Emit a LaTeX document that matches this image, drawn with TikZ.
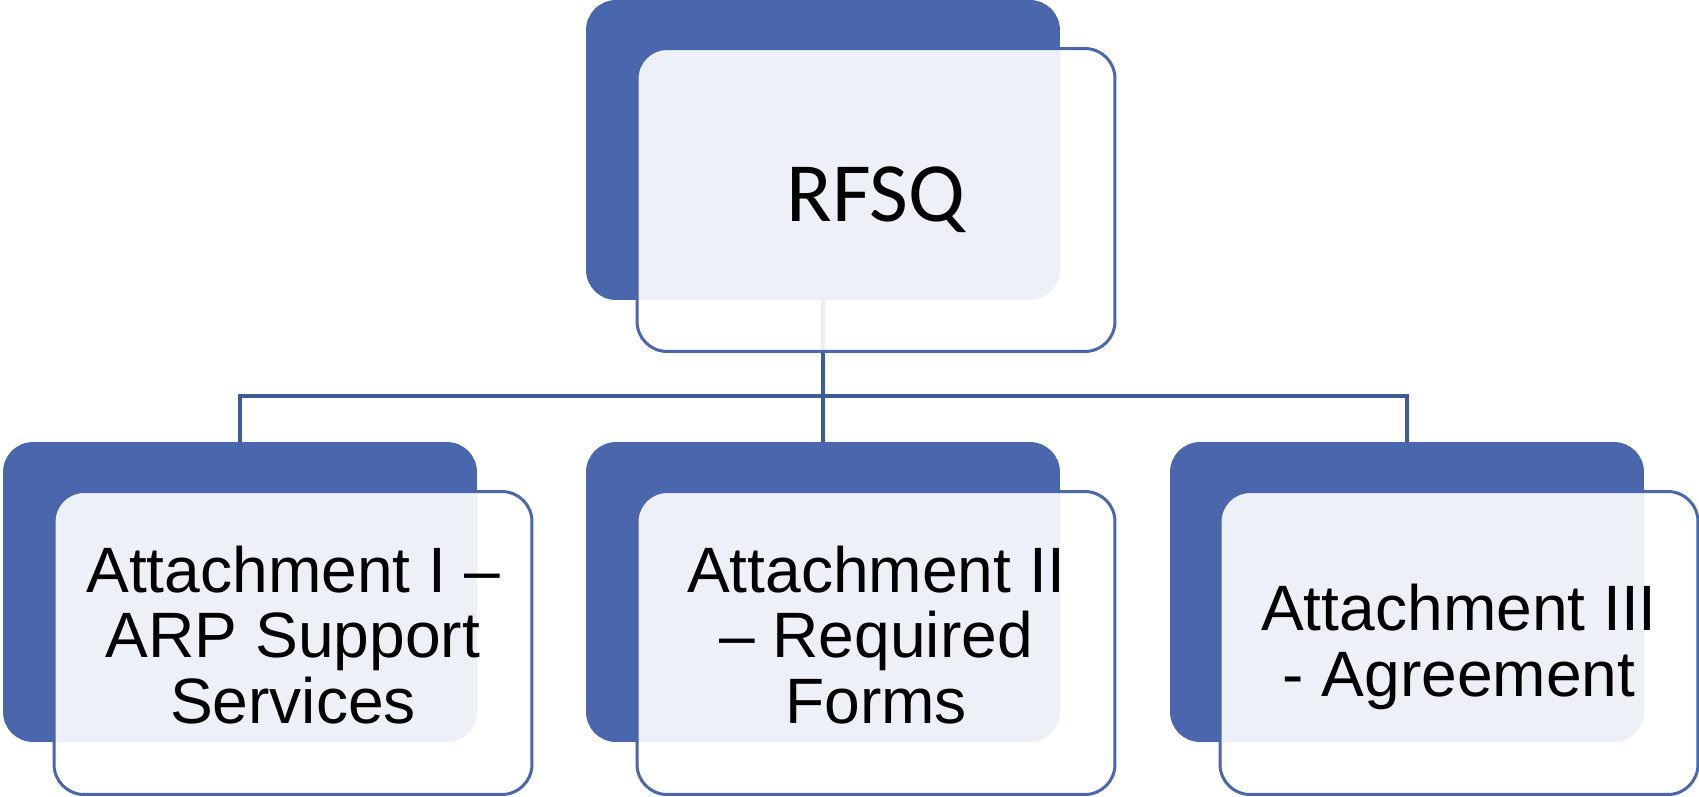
\documentclass[tikz,border=0pt]{standalone}
\usepackage{fontspec}
\setmainfont{Liberation Sans}
\newfontfamily\calib{Carlito}
\definecolor{boxblue}{HTML}{4A67AD}
\definecolor{linkblue}{HTML}{3F5A9B}
\begin{document}
\begin{tikzpicture}[x=0.02cm,y=-0.02cm,
  back/.style={rectangle,rounded corners=0.6cm,fill=boxblue,draw=none,
    minimum width=9.48cm,minimum height=6cm,inner sep=0pt},
  front/.style={rectangle,rounded corners=0.6cm,fill=white,fill opacity=0.9,text opacity=1,
    draw=boxblue,line width=0.06cm,minimum width=9.56cm,minimum height=6.06cm,
    inner sep=0pt,align=center},
  txt/.style={align=center,inner sep=0pt,text opacity=1,fill opacity=1,
    font=\fontsize{36.5}{37.5}\selectfont},
  link/.style={draw=linkblue,line width=0.065cm}]
\useasboundingbox (0,0) rectangle (1699,797);
% back boxes
\node[back] (b0) at (823,150) {};
\node[back] (b1) at (240,442+150) {};
\node[back] (b2) at (823,442+150) {};
\node[back] (b3) at (1407,442+150) {};
% connectors
\coordinate (j) at (823,396);
\draw[link] (b0.south) -- (j);
\draw[link] (b1.north) |- (j);
\draw[link] (j) -| (b3.north);
\draw[link] (j) -- (b2.north);
% front boxes
\node[front,font=\calib\fontsize{48}{50}\selectfont] (f0) at (876,200) {RFSQ};
\node[front,label={[txt,yshift=0.16cm]center:{Attachment I –\\ARP Support\\Services}}] (f1) at (293,643) {};
\node[front,label={[txt,yshift=0.16cm]center:{Attachment II\\– Required\\Forms}}] (f2) at (876,643) {};
\node[front,label={[txt,yshift=-0.08cm]center:{Attachment III\\- Agreement}}] (f3) at (1459,643) {};
\end{tikzpicture}
\end{document}
